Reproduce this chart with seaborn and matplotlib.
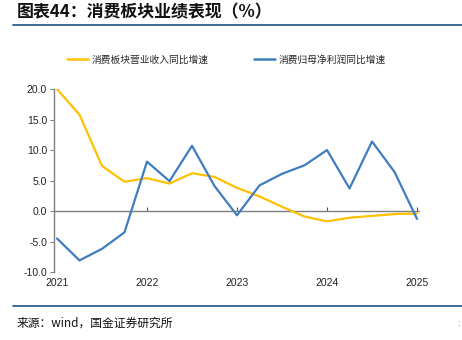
import matplotlib
matplotlib.use("Agg")
import matplotlib.pyplot as plt
import seaborn as sns
import pandas as pd
from matplotlib.lines import Line2D

quarters = list(range(17))
revenue_growth = [20.0, 15.8, 7.4, 4.8, 5.4, 4.5, 6.2, 5.6, 3.8, 2.4, 0.7, -0.9, -1.7, -1.1, -0.8, -0.5, -0.4]
profit_growth = [-4.5, -8.1, -6.2, -3.5, 8.1, 4.9, 10.7, 4.1, -0.7, 4.2, 6.1, 7.5, 10.0, 3.7, 11.4, 6.4, -1.3]
year_pos = [0, 4, 8, 12, 16]
year_labels = ["2021", "2022", "2023", "2024", "2025"]
series_names = ["消费板块营业收入同比增速", "消费归母净利润同比增速"]
colors = ["#FFC000", "#3F7DC1"]

sns.set_theme(style="white")
plt.rcParams["font.family"] = ["Noto Sans CJK SC", "DejaVu Sans"]

df = pd.DataFrame({
    "q": quarters * 2,
    "v": revenue_growth + profit_growth,
    "s": [series_names[0]] * 17 + [series_names[1]] * 17,
})

fig = plt.figure(figsize=(4.62, 3.40), dpi=100)
ax = fig.add_axes([0.117, 0.2, 0.792, 0.538])
sns.lineplot(data=df, x="q", y="v", hue="s", palette=colors, linewidth=1.6,
             ax=ax, legend=False, sort=False)
ax.axhline(0, color="#7F7F7F", linewidth=1.0, zorder=1)

ax.set_xlim(-0.13, 16.13)
ax.set_ylim(-10, 20)
ax.set_yticks([-10, -5, 0, 5, 10, 15, 20])
ax.set_yticklabels([f"{v:.1f}" for v in [-10, -5, 0, 5, 10, 15, 20]],
                   fontfamily="Liberation Sans", fontsize=7.5, color="#222222")
ax.set_xticks(year_pos)
ax.set_xticklabels(year_labels, fontfamily="Liberation Sans", fontsize=7.5, color="#222222")
ax.tick_params(axis="x", length=0, pad=4)
ax.tick_params(axis="y", length=3, width=0.8, color="#7F7F7F", direction="out", pad=2, left=True)
ax.set_xlabel("")
ax.set_ylabel("")
for side in ["top", "right", "bottom"]:
    ax.spines[side].set_visible(False)
ax.spines["left"].set_color("#7F7F7F")
ax.spines["left"].set_linewidth(1.0)

sec = ax.secondary_xaxis(1 / 3)
sec.set_xticks(year_pos[1:])
sec.set_xticklabels([])
sec.tick_params(length=3, width=0.8, color="#555555", direction="in")
sec.spines["bottom"].set_visible(False)

handles = [Line2D([], [], color=c, linewidth=1.8) for c in colors]
fig.legend(handles, series_names, loc="center", bbox_to_anchor=(0.49, 0.824),
           ncol=2, frameon=False, fontsize=7, handlelength=2.2, handletextpad=0.4,
           columnspacing=4.6)

fig.text(0.037, 0.965, "图表44：消费板块业绩表现（%）", fontsize=12.2, fontweight="bold",
         ha="left", va="center", color="#111111")
fig.add_artist(Line2D([13 / 462, 1.0], [1 - 24.5 / 340] * 2, color="#2F5F8A", linewidth=1.3))
fig.add_artist(Line2D([13 / 462, 1.0], [1 - 306 / 340] * 2, color="#2F5F8A", linewidth=1.3))
fig.text(0.037, 1 - 323 / 340, "来源：wind，国金证券研究所", fontsize=8.5,
         ha="left", va="center", color="#111111")
fig.text(0.992, 1 - 323 / 340, ":", fontsize=6, ha="center", va="center", color="#666666")

fig.savefig("out.png", dpi=100)
